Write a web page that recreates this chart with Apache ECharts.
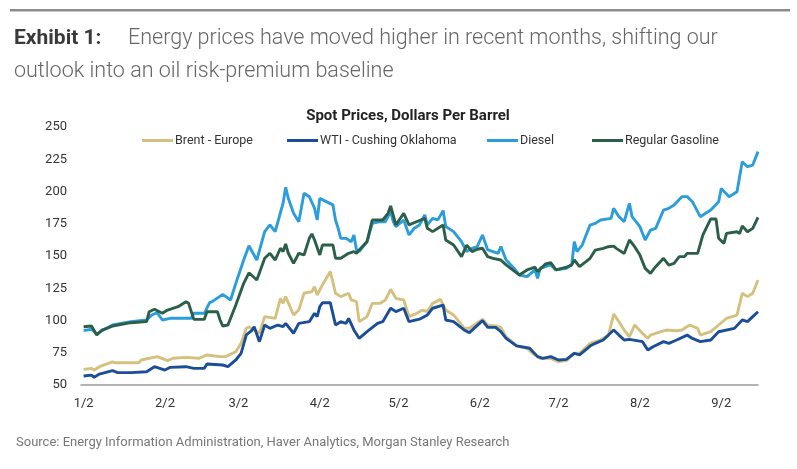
<!DOCTYPE html>
<html>
<head>
<meta charset="utf-8">
<script src="https://cdn.jsdelivr.net/npm/echarts@6/dist/echarts.min.js"></script>
<style>
  html, body { margin: 0; padding: 0; background: #fff; }
  #chart { width: 797px; height: 469px; }
</style>
</head>
<body>
<div id="chart"></div>
<script>
// days counted from 1/2
const tickDays = [0, 31, 59, 90, 120, 151, 181, 212, 243];
const tickLabels = ['1/2', '2/2', '3/2', '4/2', '5/2', '6/2', '7/2', '8/2', '9/2'];
const seriesNames = ['Brent - Europe', 'WTI - Cushing Oklahoma', 'Diesel', 'Regular Gasoline'];

const brentDays = [0,3,4,6,11,12,18,21,22,28,32,34,39,44,47,52,54,58,60,62,63,65,67,69,73,75,76,77,80,82,84,87,88,89,91,94,96,98,101,102,104,105,108,110,113,115,117,119,122,124,127,129,131,133,136,138,141,145,147,152,154,157,159,161,165,169,171,174,178,181,184,187,189,193,195,197,200,202,204,206,208,210,213,215,216,220,222,226,228,231,234,235,239,242,245,249,251,253,255,257];
const brentPrices = [62.1,62.9,61.6,64.2,68,67.3,67.3,67.3,69.4,72,68.9,70.7,71.4,70.7,73.3,72,72,75.8,82.3,94,95,92.7,90.1,103,101.7,117.2,113.3,118.5,104.3,108.2,121.1,122.4,126.3,119.8,127.6,137.9,121.1,118.5,121.1,115.9,114.6,99.1,103,113.3,113.3,115.9,124.2,117.2,115.9,103,105.6,108,107,113.3,116.4,108.2,104.3,94,94,100.9,96.5,95.8,94.7,87.5,80.3,78.5,74.6,70.7,70.7,68.1,68.9,74.6,74.6,82.3,83.6,84.9,88.7,105,99.1,92.6,87.4,96.5,90,86.1,88.7,91.3,92.6,92.1,92.6,96.5,93.9,88.7,91.3,96.5,101.7,104.2,121.1,118.5,121.1,131.4];

const wtiDays = [0,3,4,6,11,13,18,24,27,31,33,39,42,46,47,53,55,58,60,62,64,65,67,69,71,74,76,77,80,82,86,88,89,90,91,94,96,98,100,101,103,105,108,112,114,117,119,122,124,128,131,133,137,138,141,145,147,152,154,157,159,161,165,170,173,175,178,181,184,187,189,193,195,198,200,202,204,206,208,213,215,217,221,223,226,230,232,235,239,242,248,251,253,255,257];
const wtiPrices = [57,57.7,55.9,58.5,61.1,59.6,59.6,60.3,64.2,61.6,63.7,64.2,62.9,62.9,66.3,65.5,64.2,69.4,74.5,88.8,92.1,95.2,83.6,96.5,93.9,96.5,95.2,97.8,90.1,97.8,99.1,105.6,103,110.7,113.8,113.8,96.5,99.1,97.8,101.7,92.7,86.2,91.4,97.8,99.1,109.5,106.9,109.5,99.1,101,104.3,109.5,112,100.4,99.1,92.7,90.6,99.9,94.7,94.7,91.4,86.2,80.3,78.5,72,70.7,72,69.4,69.9,74.6,73.3,80.2,82.3,84.9,88.7,92.6,88.7,84.9,85.4,83.6,77.1,79.7,83.6,82.3,84.9,88.7,86.1,83.6,84.9,91.3,93.9,100.4,99.1,103,106.8];

const dieselDays = [0,3,5,7,11,18,24,26,28,30,33,41,42,46,48,49,53,56,58,61,63,66,69,71,73,76,77,78,80,82,84,86,88,89,90,95,96,97,98,100,102,103,104,105,108,110,113,115,117,118,119,122,124,126,128,130,131,133,135,137,138,141,144,146,148,150,152,154,156,158,159,161,164,166,169,172,173,174,178,180,184,186,187,188,190,193,195,197,201,202,204,206,208,209,212,214,216,218,221,223,225,228,230,232,235,239,242,243,246,249,251,253,255,257];
const dieselPrices = [92.1,93.2,89.5,92,96.5,99.1,100.4,104.3,106.1,100.4,101.7,101.7,105.6,105.6,113.8,114.6,120.3,115.9,128.8,146.9,158,146.9,168.9,174.1,168.9,190.9,203.3,194.7,183.1,176.6,198.6,196,187,177.9,194.7,189.6,177.9,171.5,163.7,163.7,161.1,166.3,154.7,153.4,161.1,175.4,176.6,176.6,184.4,176.6,172.8,177.9,166.3,171.5,174.1,181.8,174.1,179.2,178,185.2,172.8,168.9,161.1,153.4,156,157.3,166.3,154.7,153.4,152.1,157.3,146.9,140.5,135.3,134,139.2,132.7,140.5,143.1,139.2,140.5,143.1,161.1,153.4,158.5,174,175.3,177.9,179.2,186.9,180.5,176.6,190.8,180.5,172.7,162.4,170.1,171.4,185.6,186.9,189.5,196,196,192.1,180.5,185.6,192.1,202.4,196,199.8,223.1,219.2,220.5,230.9];

const gasDays = [0,3,5,7,11,18,24,25,27,30,32,36,39,40,42,46,47,51,52,53,55,58,61,63,66,69,71,73,75,76,77,78,80,82,84,86,87,88,90,91,95,96,98,101,103,104,105,108,110,114,116,117,119,122,124,128,130,131,133,137,138,141,144,146,148,150,152,154,156,159,161,166,169,172,173,176,178,180,184,186,187,189,193,195,198,200,202,203,206,208,210,212,214,216,218,221,223,225,227,229,230,234,236,239,241,242,244,245,249,250,251,253,255,257];
const gasPrices = [95.2,95.7,88.8,92.6,95.7,98.3,99.1,106.8,108.7,105.6,108.1,110.7,114.6,113.3,100.9,100.9,106.8,106.8,100.4,95.7,96.5,112,128.8,137,131.4,148.2,152.1,146.9,156,153.4,159.3,152.1,144.3,152.1,150.8,163.7,167.1,162.4,150.8,158.5,158.5,148.2,148.2,152.1,153.4,152.1,154.7,161.1,177.9,177.9,183.1,188.8,174.1,183.1,174.1,177.5,179.2,171.5,168.9,174.1,162.4,158.5,149.5,158.5,153.4,155.2,156,149.5,148.2,146.9,143.1,135.3,139.2,141.3,137.9,143.8,144.9,139.2,141.3,143.1,146.9,141.8,148.2,154.6,155.9,157.2,157.7,155.9,152,162.4,157.2,150.7,140.4,136.5,141.7,148.2,143,144.3,149.5,149.5,152,152,166.3,178.7,178.7,163.7,159.8,167.5,168.8,167.5,173.2,168.8,171.4,179.9];

const colors = ['#D5C17F', '#1C4E98', '#2A9DDA', '#2B5F49'];
const legendLefts = [137, 282, 482, 587];

function zip(days, vals) {
  return days.map((d, i) => [d, vals[i]]);
}

const chart = echarts.init(document.getElementById('chart'), null, { renderer: 'canvas' });

const allDays = [brentDays, wtiDays, dieselDays, gasDays];
const allPrices = [brentPrices, wtiPrices, dieselPrices, gasPrices];

const option = {
  animation: false,
  color: colors,
  textStyle: { fontFamily: 'Roboto' },
  title: {
    text: 'Spot Prices, Dollars Per Barrel',
    left: 403,
    textAlign: 'center',
    top: 104,
    textStyle: { fontSize: 15, fontWeight: 'bold', color: '#222', fontFamily: 'Roboto' }
  },
  // one legend per item so each sits where the original puts it
  legend: seriesNames.map((name, k) => ({
    left: legendLefts[k],
    top: 129,
    icon: 'rect',
    itemWidth: 31,
    itemHeight: 3,
    textStyle: { fontSize: 12.5, color: '#333', fontFamily: 'Roboto', padding: [0, 0, 0, -3] },
    data: [name]
  })),
  grid: {
    left: 81,
    right: 39,
    top: 127,
    bottom: 84,
    outerBoundsMode: 'none'
  },
  xAxis: {
    type: 'value',
    min: -1,
    max: 257,
    splitLine: { show: false },
    axisLine: { show: true, lineStyle: { color: '#9a9a9a', width: 1.5 } },
    axisTick: { show: false },
    axisLabel: {
      customValues: tickDays,
      margin: 12,
      fontSize: 13,
      color: '#333',
      formatter: function (v) {
        const i = tickDays.indexOf(v);
        return i >= 0 ? tickLabels[i] : '';
      }
    }
  },
  yAxis: {
    type: 'value',
    min: 50,
    max: 250,
    interval: 25,
    splitLine: { show: false },
    axisLine: { show: false },
    axisTick: { show: false },
    axisLabel: { margin: 14, fontSize: 13, color: '#333' }
  },
  series: seriesNames.map((name, k) => ({
    name: name,
    type: 'line',
    symbol: 'none',
    data: zip(allDays[k], allPrices[k]),
    lineStyle: { width: 2.9, color: colors[k] },
    itemStyle: { color: colors[k] }
  })),
  graphic: [
    {
      type: 'rect',
      shape: { x: 10, y: 9, width: 780, height: 2.5 },
      style: { fill: '#8c8c8c' }
    },
    {
      type: 'text',
      style: {
        x: 14, y: 39,
        text: 'Exhibit 1:',
        fontSize: 21, fontWeight: 'bold', fontFamily: 'Roboto',
        fill: '#3a3a3a', verticalAlign: 'middle'
      }
    },
    {
      type: 'text',
      style: {
        x: 128, y: 39,
        text: 'Energy prices have moved higher in recent months, shifting our',
        fontSize: 21.5, fontWeight: 300, fontFamily: 'Roboto',
        fill: '#666', verticalAlign: 'middle'
      }
    },
    {
      type: 'text',
      style: {
        x: 14, y: 72,
        text: 'outlook into an oil risk-premium baseline',
        fontSize: 21.5, fontWeight: 300, fontFamily: 'Roboto',
        fill: '#666', verticalAlign: 'middle'
      }
    },
    {
      type: 'text',
      style: {
        x: 16, y: 443,
        text: 'Source: Energy Information Administration, Haver Analytics, Morgan Stanley Research',
        fontSize: 13, fontFamily: 'Roboto',
        fill: '#777', verticalAlign: 'middle'
      }
    }
  ]
};

chart.setOption(option);
</script>
</body>
</html>
